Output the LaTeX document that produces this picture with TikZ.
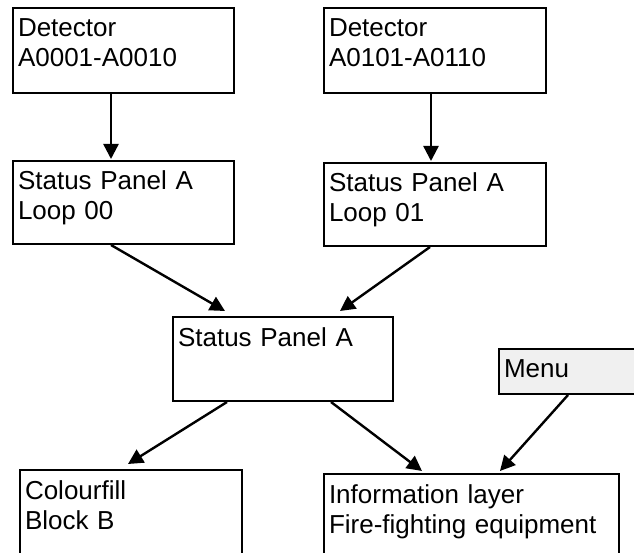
\documentclass[tikz,border=0pt]{standalone}
\usepackage{fontspec}
\setmainfont{Liberation Sans}
\usepackage{tikz}
\usetikzlibrary{arrows.meta,calc}

\tikzset{
  box/.style n args={2}{draw=black,line width=2pt,anchor=north west,align=left,
    inner xsep=5pt,inner ysep=0pt,text height=29pt,text width=#1,text depth=#2,
    font=\fontsize{26}{30}\selectfont},
  arr/.style={line width=2.4pt,-{Triangle[length=15pt,width=15pt]}}
}

\begin{document}
\begin{tikzpicture}[x=1pt,y=-1pt]
\useasboundingbox (0,0) rectangle (634,553);
\clip (0,0) rectangle (634,553);

\node[box={211pt}{56pt}] (det1) at (12,7) {Detector\\A0001-A0010};
\node[box={212pt}{56pt}] (det2) at (323,7) {Detector\\A0101-A0110};
\node[box={211pt}{54pt}] (loop0) at (12,160) {Status Panel A\\Loop 00};
\node[box={212pt}{54pt}] (loop1) at (323,162) {Status Panel A\\Loop 01};
\node[box={210pt}{55pt}] (panel) at (172,316) {Status Panel A};
\node[box={150pt}{17pt},fill=black!6,text height=28pt] (menu) at (498,348) {Menu};
\node[box={212pt}{71pt}] (colour) at (19,469) {Colourfill\\Block B};
\node[box={285pt}{71pt}] (info) at (323,473) {Information layer\\Fire-fighting equipment};

% connectors
\draw[arr] ($(det1.south west)+(99,0)$) -- ($(loop0.north west)+(99,-1)$);
\draw[arr] ($(det2.south west)+(108,0)$) -- ($(loop1.north west)+(108,-1)$);
\draw[arr] ($(loop0.south west)+(99,0)$) -- ($(panel.north west)+(53,-5)$);
\draw[arr] ($(loop1.south west)+(107,0)$) -- ($(panel.north west)+(168,-5)$);
\draw[arr] ($(panel.south west)+(55,0)$) -- ($(colour.north west)+(109,-5)$);
\draw[arr] ($(panel.south west)+(159,0)$) -- ($(info.north west)+(99,-2)$);
\draw[arr] ($(menu.south west)+(70,0)$) -- ($(info.north west)+(177,-2)$);

\end{tikzpicture}
\end{document}
